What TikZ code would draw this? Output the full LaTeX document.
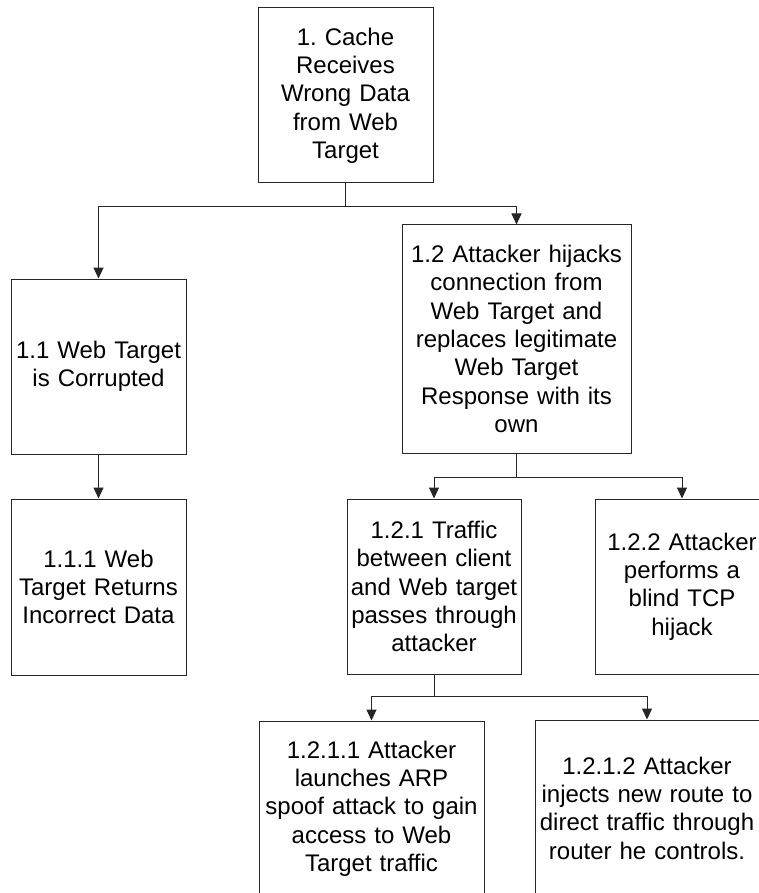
\documentclass[tikz,border=0pt]{standalone}
\usepackage{fontspec}
\setmainfont{Liberation Sans}
\usetikzlibrary{arrows.meta}
\frenchspacing
\begin{document}
\begin{tikzpicture}[x=1pt,y=-1pt,
  box/.style={draw=black!85, line width=1pt, rectangle, inner sep=0pt, align=center,
    font=\fontsize{24}{28.3}\selectfont\frenchspacing},
  arr/.style={draw=black!85, line width=1pt, -{Triangle[width=10pt,length=11pt]}},
  conn/.style={draw=black!85, line width=1pt}]
\clip (0,0) rectangle (759,893);
\fill[white] (0,0) rectangle (759,893);

\node[box, minimum width=175pt, minimum height=175pt, text width=175pt] (n1) at (345.5,95.5)
  {1. Cache\\ Receives\\ Wrong Data\\ from Web\\ Target};
\node[box, minimum width=175pt, minimum height=175pt, text width=175pt] (n11) at (98.5,366.5)
  {1.1 Web Target\\ is Corrupted};
\node[box, minimum width=229pt, minimum height=228pt, text width=229pt] (n12) at (516.5,339)
  {1.2 Attacker hijacks\\ connection from\\ Web Target and\\ replaces legitimate\\ Web Target\\ Response with its\\ own};
\node[box, minimum width=175pt, minimum height=176pt, text width=175pt] (n111) at (98.5,587)
  {1.1.1 Web\\ Target Returns\\ Incorrect Data};
\node[box, minimum width=174pt, minimum height=175pt, text width=174pt] (n121) at (434,586.5)
  {1.2.1 Traffic\\ between client\\ \makebox[0pt][c]{and Web target}\\ passes through\\ attacker};
\node[box, minimum width=174pt, minimum height=175pt, text width=174pt] (n122) at (682,586.5)
  {1.2.2 Attacker\\ performs a\\ blind TCP\\ hijack};
\node[box, minimum width=225pt, minimum height=175pt, text width=225pt] (n1211) at (371.5,808.5)
  {1.2.1.1 Attacker\\ launches ARP\\ spoof attack to gain\\ access to Web\\ Target traffic};
\node[box, minimum width=224pt, minimum height=176pt, text width=224pt] (n1212) at (647,808)
  {1.2.1.2 Attacker\\ injects new route to\\ direct traffic through\\ router he controls.};

\coordinate (j1) at (n1.south |- 0,207);
\coordinate (j12) at (n12.south |- 0,477);
\coordinate (j121) at (n121.south |- 0,696);

\draw[conn] (n1.south) -- (j1);
\draw[arr] (j1) -| (n11.north);
\draw[arr] (j1) -| (n12.north);
\draw[arr] (n11.south) -- (n111.north);
\draw[conn] (n12.south) -- (j12);
\draw[arr] (j12) -| (n121.north);
\draw[arr] (j12) -| (n122.north);
\draw[conn] (n121.south) -- (j121);
\draw[arr] (j121) -| (n1211.north);
\draw[arr] (j121) -| (n1212.north);
\end{tikzpicture}
\end{document}
